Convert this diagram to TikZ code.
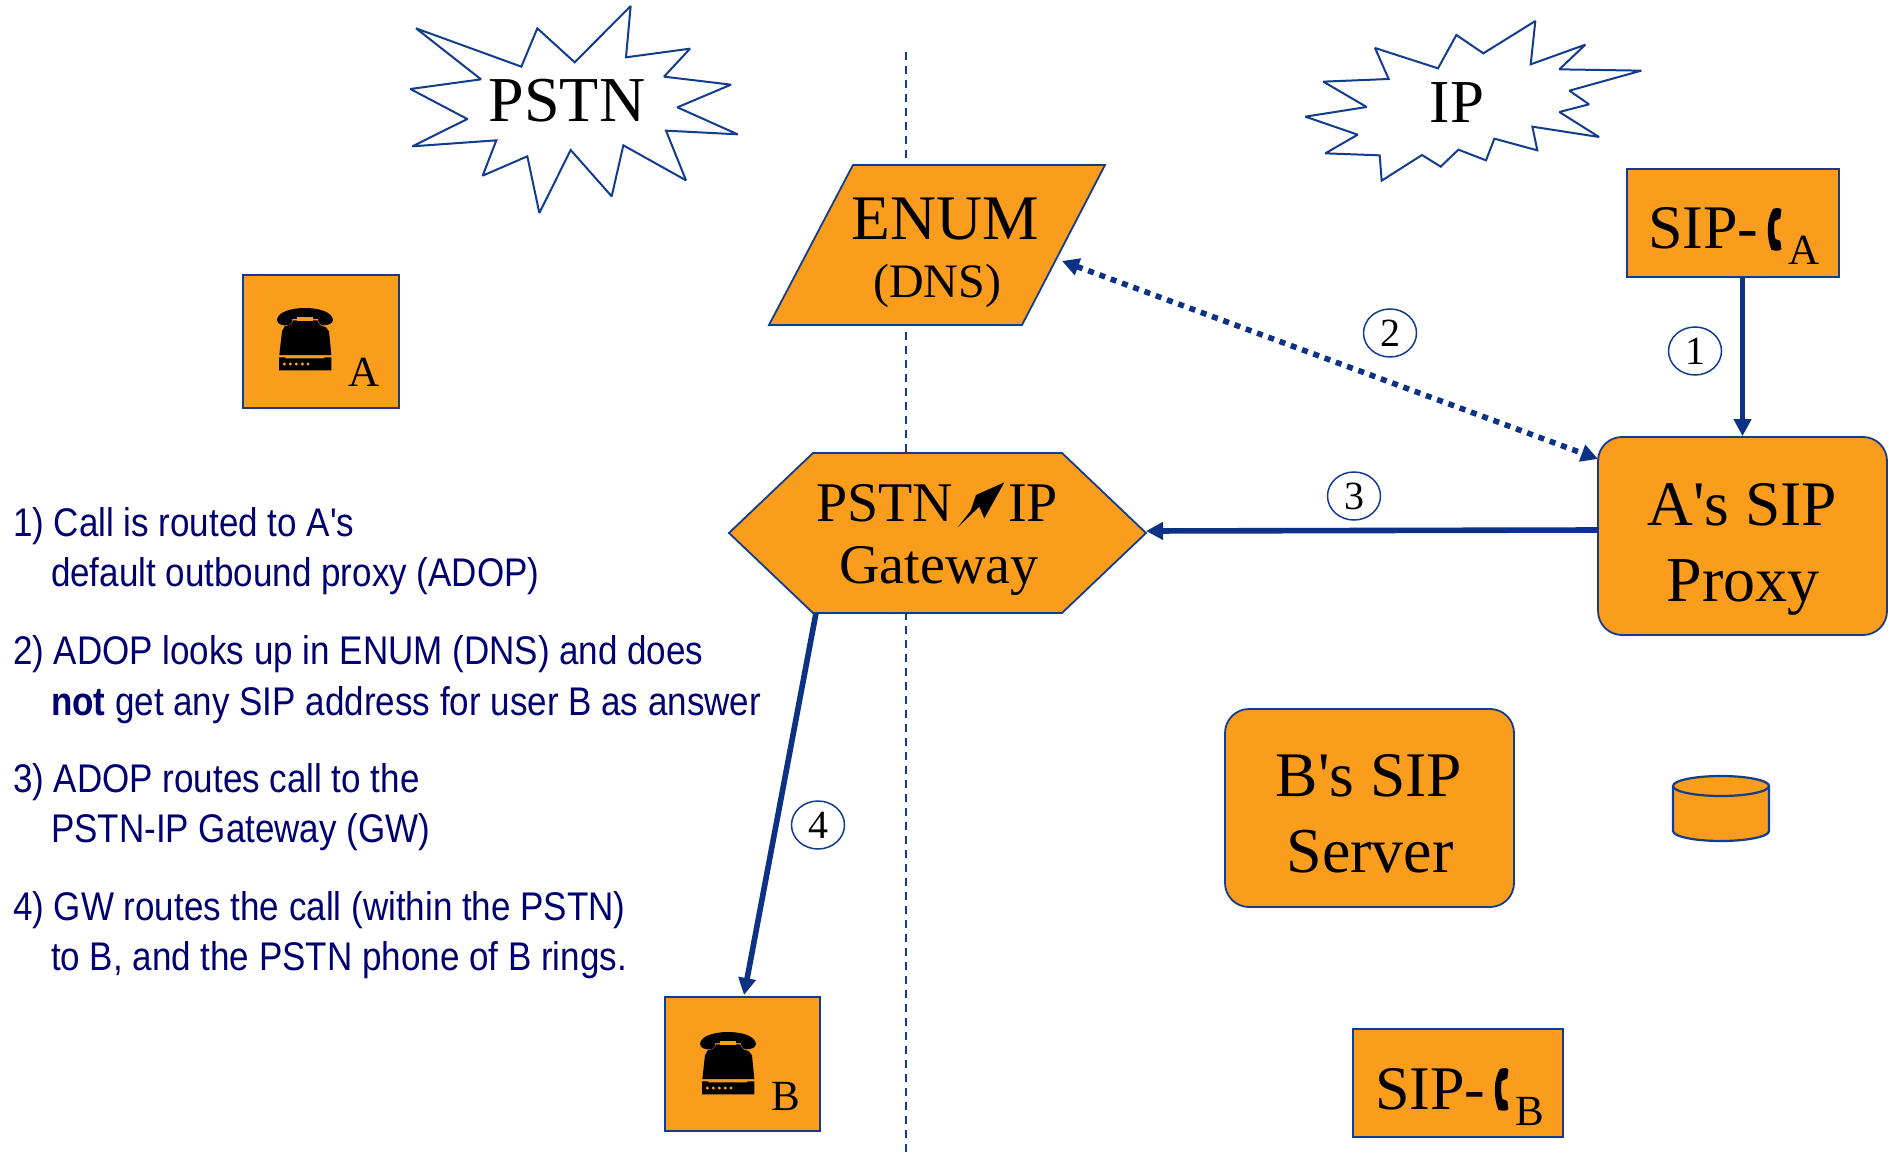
\documentclass[tikz,border=0pt]{standalone}
\usepackage{fontspec}
\setmainfont{Liberation Serif}
\newfontfamily\plainserif{Liberation Serif}
\newfontfamily\narrowsf[FakeStretch=0.875]{Liberation Sans}
\usetikzlibrary{arrows.meta,shapes.geometric}
\definecolor{fillorange}{HTML}{FA9D1C}
\definecolor{edgeblue}{HTML}{123C8E}
\definecolor{arrowblue}{HTML}{0B3285}
\definecolor{listnavy}{HTML}{000070}
\newcommand{\setpx}[2]{\fontsize{#1}{#2}\selectfont}
\tikzset{
  x=0.5pt,y=-0.5pt,
  shapebox/.style={draw=edgeblue,fill=fillorange,line width=0.9pt},
  burst/.style={draw=edgeblue,fill=white,line width=1pt,line join=miter,miter limit=2},
  label/.style={inner sep=0pt,outer sep=0pt,anchor=base,text=black},
  labelleft/.style={inner sep=0pt,outer sep=0pt,anchor=base west,text=black},
  item/.style={inner sep=0pt,outer sep=0pt,anchor=base west,align=left,text=listnavy},
  conn/.style={draw=arrowblue,line width=2.8pt,-{Triangle[length=8.5pt,width=8.5pt]}},
  dotconn/.style={draw=arrowblue,line width=2.8pt,dash pattern=on 3pt off 3pt,
     {Triangle[length=8.5pt,width=8.5pt]}-{Triangle[length=8.5pt,width=8.5pt]}},
  stepmark/.style={ellipse,draw=edgeblue,line width=0.75pt,fill=white,minimum width=26.5pt,minimum height=24pt,inner sep=0pt,text=black},
  phoneicon/.pic={
    \begin{scope}[x=0.1667pt,y=-0.1667pt,shift={(-172,-145)}]
      \fill[black] (172,180) .. controls (175,155) and (220,145) .. (255,145)
        .. controls (295,145) and (335,155) .. (340,180) .. controls (340,192) and (325,197) .. (310,197)
        .. controls (300,195) and (295,188) .. (295,178) -- (218,178) .. controls (218,188) and (212,196) .. (205,197)
        .. controls (190,198) and (172,195) .. (172,180) -- cycle;
      \fill[black] (195,200) .. controls (210,198) and (218,192) .. (220,182) -- (293,182)
        .. controls (296,195) and (305,200) .. (318,202) -- (328,215) -- (335,286) -- (179,286) -- (187,215) -- cycle;
      \fill[fillorange] (232,172) rectangle (281,185);
      \fill[black] (178,293) -- (197,293) -- (197,296) -- (314,296) -- (314,293) -- (335,293) -- (335,332) -- (178,332) -- cycle;
      \foreach \dx in {194,212,230,248,265} \fill[fillorange] (\dx,313) circle (5);
    \end{scope}
  },
  handseticon/.pic={
    \begin{scope}[x=0.1667pt,y=-0.1667pt,shift={(-505,-175)}]
      \fill[black] (520,178) .. controls (530,174) and (542,174) .. (545,180) -- (542,206)
        .. controls (535,210) and (528,212) .. (525,214) .. controls (522,232) and (522,250) .. (527,268)
        .. controls (532,270) and (538,272) .. (542,274) -- (545,298) .. controls (540,305) and (525,304) .. (515,300)
        .. controls (500,262) and (500,210) .. (520,178) -- cycle;
    \end{scope}
  },
  boltshape/.style={fill=black,draw=none}
}
\begin{document}
\begin{tikzpicture}
\useasboundingbox[fill=white] (0,0) rectangle (1888,1154);

% PSTN/IP divider
\coordinate (divtop) at (906,52);
\coordinate (divbot) at (906,1153);
\draw[draw=edgeblue,line width=0.8pt,dash pattern=on 4pt off 3pt] (divtop) -- (divbot);

% bursts
\begin{scope}[shift={(380,0)},x=0.16667pt,y=-0.16667pt]
\draw[burst] (108,85)--(424,200)--(472,85)--(584,187)--(752,18)--(738,172)--(930,146)--(852,230)--(1053,254)--(892,322)--(1073,403)--(858,392)--(918,541)--(730,436)--(695,589)--(572,450)--(478,639)--(442,469)--(308,527)--(349,421)--(97,439)--(262,357)--(91,267)--(303,238)--cycle;
\end{scope}
\begin{scope}[shift={(1290,10)},x=0.16667pt,y=-0.16667pt]
\draw[burst] (255,114)--(444,175)--(499,75)--(580,130)--(736,33)--(722,163)--(886,104)--(808,178)--(1054,182)--(838,242)--(897,283)--(808,306)--(927,381)--(727,350)--(742,421)--(613,386)--(588,451)--(505,419)--(452,470)--(396,435)--(275,512)--(269,436)--(106,430)--(203,374)--(46,320)--(230,291)--(100,215)--(296,207)--cycle;
\end{scope}
\node[label] (pstnlabel) at (567,122) {\setpx{32pt}{36pt}PSTN};
\node[label] (iplabel) at (1457,123) {\setpx{30.5pt}{36pt}IP};

% ENUM
\draw[shapebox] (853,165) -- (1105,165) -- (1022,325) -- (769,325) -- cycle;
\coordinate (enumport) at (1062,261);
\node[label] (enumlabel) at (945,240) {\setpx{31.75pt}{36pt}ENUM};
\node[label] (dnslabel) at (937,298) {\setpx{24pt}{28pt}(DNS)};

% Gateway
\draw[shapebox] (813,453) -- (1062,453) -- (1146,533) -- (1062,613) -- (813,613) -- (729,533) -- cycle;
\coordinate (gwport) at (1146,531);
\coordinate (gwS) at (816,613);
\node[labelleft] (gwpstn) at (816,522) {\setpx{28pt}{32pt}PSTN};
\node[labelleft] (gwip) at (1008,522) {\setpx{28pt}{32pt}IP};
\begin{scope}[shift={(720,440)},x=0.16667pt,y=-0.16667pt]
\fill[boltshape] (853,127)--(768,165)--(752,212)--(713,262)--(778,200)--(793,235)--cycle;
\end{scope}
\node[label] (gwlabel) at (939,583) {\setpx{28pt}{32pt}Gateway};

% proxies and servers
\node[shapebox,rounded corners=12pt,minimum width=144.5pt,minimum height=99pt,inner sep=0pt] (proxy) at (1742.5,536) {};
\node[label] (proxyl1) at (1742,525) {\setpx{31.75pt}{36pt}\plainserif A's SIP};
\node[label] (proxyl2) at (1743,601) {\setpx{32pt}{36pt}Proxy};
\node[shapebox,rounded corners=12pt,minimum width=144.5pt,minimum height=99pt,inner sep=0pt] (server) at (1369.5,808) {};
\node[label] (serverl1) at (1369,796) {\setpx{31.75pt}{36pt}\plainserif B's SIP};
\node[label] (serverl2) at (1370,872) {\setpx{32pt}{36pt}Server};

% SIP phones
\node[shapebox,minimum width=106pt,minimum height=54pt,inner sep=0pt] (sipa) at (1733,223) {};
\node[labelleft] (sipatext) at (1648,249) {\setpx{31pt}{36pt}SIP-};
\pic at (1768,208) {handseticon};
\node[labelleft] (sipasub) at (1788,265) {\setpx{21.5pt}{26pt}A};
\node[shapebox,minimum width=105pt,minimum height=54pt,inner sep=0pt] (sipb) at (1458,1083) {};
\node[labelleft] (sipbtext) at (1375,1109) {\setpx{31pt}{36pt}SIP-};
\pic at (1495,1068) {handseticon};
\node[labelleft] (sipbsub) at (1515,1125) {\setpx{21.5pt}{26pt}B};

% PSTN phones
\node[shapebox,minimum width=78pt,minimum height=66.5pt,inner sep=0pt] (boxa) at (321,341.5) {};
\pic at (277,308) {phoneicon};
\node[labelleft] (boxalabel) at (348,387) {\setpx{21.5pt}{26pt}A};
\node[shapebox,minimum width=77.5pt,minimum height=67pt,inner sep=0pt] (boxb) at (742.5,1064) {};
\pic at (700,1032) {phoneicon};
\node[labelleft] (boxblabel) at (771,1110) {\setpx{21.5pt}{26pt}B};

% database
\draw[shapebox,line width=1.1pt] (1673,786) -- (1673,831) arc[start angle=180,end angle=0,x radius=48,y radius=10] -- (1769,786);
\coordinate (dbtop) at (1721,786);
\draw[shapebox,line width=1.1pt] (dbtop) ellipse[x radius=48,y radius=10];

% connectors
\coordinate (proxyA) at (1598,459);
\coordinate (proxyW) at (1598,530);
\coordinate (boxbN) at (744,995);
\draw[conn] (sipa.south -| proxy.north) -- (proxy.north);
\draw[dotconn] (enumport) -- (proxyA);
\draw[conn] (proxyW) -- (gwport);
\draw[conn] (gwS) -- (boxbN);

% step marks
\node[stepmark] (m1) at (1695,351) {\setpx{20pt}{24pt}1};
\node[stepmark] (m2) at (1390,333) {\setpx{20pt}{24pt}2};
\node[stepmark] (m3) at (1354,496) {\setpx{20pt}{24pt}3};
\node[stepmark] (m4) at (818,825) {\setpx{20pt}{24pt}4};

% list
\node[item] (i1a) at (13,536) {\narrowsf\setpx{20pt}{25pt}1) Call is routed to A's};
\node[item] (i1b) at (51,586) {\narrowsf\setpx{20pt}{25pt}default outbound proxy (ADOP)};
\node[item] (i2a) at (13,664) {\narrowsf\setpx{20pt}{25pt}2) ADOP looks up in ENUM (DNS) and does};
\node[item] (i2b) at (51,715) {\narrowsf\setpx{20pt}{25pt}\textbf{not} get any SIP address for user B as answer};
\node[item] (i3a) at (13,792) {\narrowsf\setpx{20pt}{25pt}3) ADOP routes call to the};
\node[item] (i3b) at (51,842) {\narrowsf\setpx{20pt}{25pt}PSTN-IP Gateway (GW)};
\node[item] (i4a) at (13,920) {\narrowsf\setpx{20pt}{25pt}4) GW routes the call (within the PSTN)};
\node[item] (i4b) at (51,970) {\narrowsf\setpx{20pt}{25pt}to B, and the PSTN phone of B rings.};
\end{tikzpicture}
\end{document}
